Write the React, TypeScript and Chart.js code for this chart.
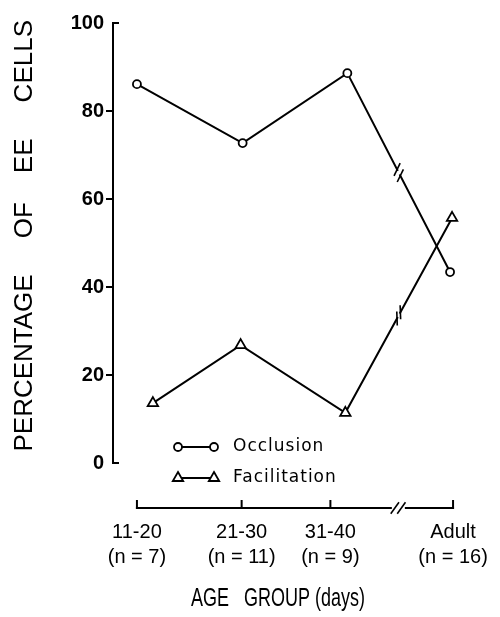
import React, { useEffect, useRef } from "react";
import { Chart, registerables } from "chart.js";

Chart.register(...registerables);

// ---- data ----
const groupLabels = ["11-20", "21-30", "31-40", "Adult"];
const groupCounts = ["(n = 7)", "(n = 11)", "(n = 9)", "(n = 16)"];
// positions of the age groups along the (unevenly drawn) x axis
const groupPositions = [0.24, 1.29, 2.18, 3.41];
const occlusionX = [0.24, 1.3, 2.35, 3.38];
const occlusionValues = [86.1, 72.7, 88.6, 43.4];
const facilitationX = [0.4, 1.28, 2.33, 3.4];
const facilitationValues = [13.6, 26.8, 11.4, 55.7];
const yTickValues = [0, 20, 40, 60, 80, 100];

const ARIAL = '"Liberation Sans", Arial, sans-serif';

function seg(ctx: CanvasRenderingContext2D, x1: number, y1: number, x2: number, y2: number) {
  ctx.beginPath();
  ctx.moveTo(x1, y1);
  ctx.lineTo(x2, y2);
  ctx.stroke();
}

function slash(ctx: CanvasRenderingContext2D, cx: number, cy: number, angleDeg: number, len: number) {
  const a = (angleDeg * Math.PI) / 180;
  const dx = (Math.cos(a) * len) / 2;
  const dy = (-Math.sin(a) * len) / 2;
  seg(ctx, cx - dx, cy - dy, cx + dx, cy + dy);
}

function marker(ctx: CanvasRenderingContext2D, style: string, x: number, y: number) {
  ctx.save();
  ctx.fillStyle = "#fff";
  ctx.strokeStyle = "#000";
  ctx.lineWidth = 1.8;
  ctx.beginPath();
  if (style === "circle") {
    ctx.arc(x, y, 4, 0, Math.PI * 2);
  } else {
    const r = 6;
    for (let i = 0; i < 3; i++) {
      const ang = -Math.PI / 2 + (i * 2 * Math.PI) / 3;
      const px = x + Math.cos(ang) * r;
      const py = y + Math.sin(ang) * r;
      if (i === 0) ctx.moveTo(px, py);
      else ctx.lineTo(px, py);
    }
    ctx.closePath();
  }
  ctx.fill();
  ctx.stroke();
  ctx.restore();
}

const decorPlugin = {
  id: "decor",
  afterDraw(chart: any) {
    const { ctx, chartArea, scales } = chart;
    const x = scales.x;
    const y = scales.y;
    ctx.save();
    ctx.strokeStyle = "#000";
    ctx.lineWidth = 2;
    ctx.lineCap = "butt";

    // caps of the y axis at 0 and 100 (pointing right)
    [0, 100].forEach((v) => {
      const py = y.getPixelForValue(v);
      seg(ctx, chartArea.left - 1, py, chartArea.left + 6, py);
    });

    // separate x axis below the plot
    const axisY = chartArea.bottom + 45;
    const px = groupPositions.map((v) => x.getPixelForValue(v));
    const breakX = px[2] + (px[3] - px[2]) * 0.55;
    seg(ctx, px[0] - 1, axisY, breakX - 6, axisY);
    seg(ctx, breakX + 7, axisY, px[3] + 1, axisY);
    px.forEach((p) => seg(ctx, p, axisY + 1, p, axisY - 8));
    ctx.lineWidth = 1.6;
    slash(ctx, breakX - 3, axisY, 54, 14);
    slash(ctx, breakX + 3.5, axisY, 54, 14);

    // break marks on the lines between 31-40 and Adult
    const angles = [64, 92];
    chart.data.datasets.forEach((_ds: any, i: number) => {
      const meta = chart.getDatasetMeta(i);
      const a = meta.data[2];
      const b = meta.data[3];
      const mx = (a.x + b.x) / 2;
      const my = (a.y + b.y) / 2;
      const L = Math.hypot(b.x - a.x, b.y - a.y);
      const ux = (b.x - a.x) / L;
      const uy = (b.y - a.y) / L;
      ctx.save();
      ctx.strokeStyle = "#fff";
      ctx.lineWidth = 4;
      seg(ctx, mx - ux * 2, my - uy * 2, mx + ux * 2, my + uy * 2);
      ctx.restore();
      ctx.lineWidth = 1.6;
      slash(ctx, mx - ux * 3.5, my - uy * 3.5, angles[i], 14);
      slash(ctx, mx + ux * 3.5, my + uy * 3.5, angles[i], 14);
    });

    // legend
    const lx1 = chartArea.left + 65;
    const lx2 = chartArea.left + 101;
    const rows = [
      { y: chartArea.bottom - 16, style: "circle", text: "Occlusion" },
      { y: chartArea.bottom + 15, style: "triangle", text: "Facilitation" },
    ];
    rows.forEach((r) => {
      ctx.lineWidth = 1.8;
      ctx.strokeStyle = "#000";
      seg(ctx, lx1, r.y, lx2, r.y);
      marker(ctx, r.style, lx1, r.y);
      marker(ctx, r.style, lx2, r.y);
      ctx.fillStyle = "#000";
      ctx.font = '17px "DejaVu Sans", sans-serif';
      (ctx as any).letterSpacing = "1px";
      ctx.textAlign = "left";
      ctx.textBaseline = "middle";
      ctx.fillText(r.text, lx2 + 19, r.y);
    });

    // x axis title (condensed lettering)
    (ctx as any).letterSpacing = "0px";
    ctx.font = "25px " + ARIAL;
    ctx.textAlign = "center";
    ctx.textBaseline = "middle";
    ctx.fillStyle = "#000";
    ctx.save();
    ctx.translate(278, chartArea.bottom + 136);
    ctx.scale(0.72, 1);
    ctx.fillText("AGE   GROUP (days)", 0, 0);
    ctx.restore();

    ctx.restore();
  },
};

export default function App() {
  const canvasRef = useRef<HTMLCanvasElement | null>(null);

  useEffect(() => {
    if (!canvasRef.current) return;
    const chart = new Chart(canvasRef.current, {
      type: "line",
      data: {
        datasets: [
          {
            label: "Occlusion",
            data: occlusionX.map((v, i) => ({ x: v, y: occlusionValues[i] })),
            borderColor: "#000",
            borderWidth: 2,
            pointStyle: "circle",
            pointRadius: 4,
            pointBackgroundColor: "#fff",
            pointBorderColor: "#000",
            pointBorderWidth: 1.8,
            tension: 0,
            clip: false as any,
          },
          {
            label: "Facilitation",
            data: facilitationX.map((v, i) => ({ x: v, y: facilitationValues[i] })),
            borderColor: "#000",
            borderWidth: 2,
            pointStyle: "triangle",
            pointRadius: 6,
            pointBackgroundColor: "#fff",
            pointBorderColor: "#000",
            pointBorderWidth: 1.8,
            tension: 0,
            clip: false as any,
          },
        ],
      },
      options: {
        animation: false,
        responsive: false,
        layout: { padding: { top: 23, right: 28, bottom: 0, left: 0 } },
        plugins: { legend: { display: false }, tooltip: { enabled: false } },
        scales: {
          x: {
            type: "linear",
            min: 0,
            max: 3.6,
            afterBuildTicks: (s: any) => {
              s.ticks = groupPositions.map((v) => ({ value: v }));
            },
            afterFit: (s: any) => {
              s.height = 154;
              s.paddingLeft = 0;
              s.paddingRight = 0;
            },
            ticks: {
              autoSkip: false,
              maxRotation: 0,
              minRotation: 0,
              padding: 0,
              color: "#000",
              font: { family: ARIAL, size: 20, lineHeight: 1.25 },
              callback: (_v: any, i: number) => [groupLabels[i], groupCounts[i]],
            },
            grid: {
              display: true,
              drawOnChartArea: false,
              drawTicks: true,
              tickLength: 57,
              color: "rgba(0,0,0,0)",
            },
            border: { display: false },
          },
          y: {
            type: "linear",
            min: 0,
            max: 100,
            afterBuildTicks: (s: any) => {
              s.ticks = yTickValues.map((v) => ({ value: v }));
            },
            afterFit: (s: any) => {
              s.width = 113;
            },
            ticks: {
              padding: 2,
              color: "#000",
              font: { family: ARIAL, size: 20, weight: "bold" },
            },
            grid: {
              drawOnChartArea: false,
              drawTicks: true,
              tickLength: 7,
              lineWidth: 2,
              color: (c: any) =>
                c.tick && (c.tick.value === 0 || c.tick.value === 100) ? "rgba(0,0,0,0)" : "#000",
            },
            border: { display: true, color: "#000", width: 2 },
            title: {
              display: true,
              text: "  PERCENTAGE     OF    EE     CELLS",
              color: "#000",
              font: { family: ARIAL, size: 26 },
              padding: { top: 9, bottom: 0 },
            },
          },
        },
      },
      plugins: [decorPlugin],
    });
    return () => chart.destroy();
  }, []);

  return (
    <div style={{ position: "absolute", left: 0, top: 0, width: 500, height: 617, background: "#fff" }}>
      <canvas ref={canvasRef} width={500} height={617} style={{ display: "block" }} />
    </div>
  );
}
